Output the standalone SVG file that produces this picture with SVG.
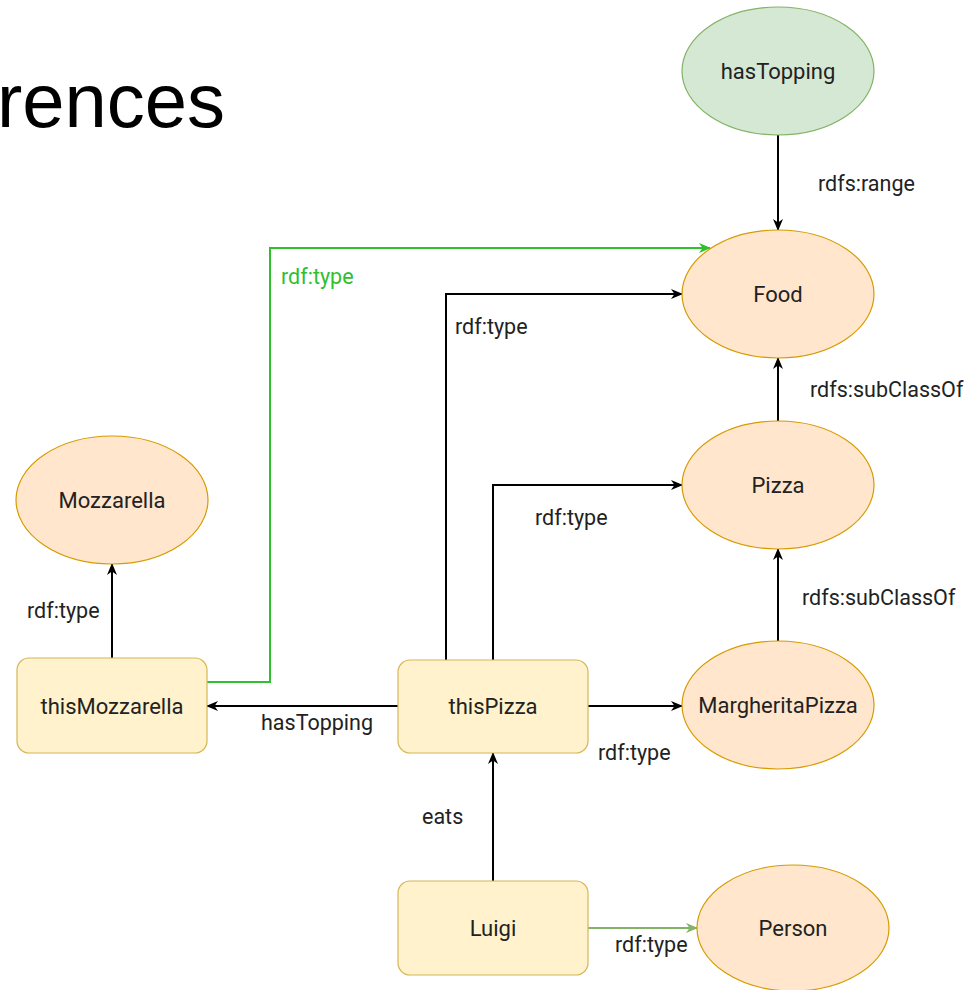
<svg xmlns="http://www.w3.org/2000/svg" width="972" height="990" viewBox="0 0 972 990">
<defs>
<style>
.cls{fill:#ffe6cc;stroke:#d79b00;stroke-width:1.2}
.ind{fill:#fff2cc;stroke:#d6b656;stroke-width:1.2}
.prop{fill:#d5e8d4;stroke:#82b366;stroke-width:1.2}
.nt{font-family:Roboto,"Liberation Sans",sans-serif;font-size:22px;fill:#222;text-anchor:middle;dominant-baseline:central}
.lb{font-family:Roboto,"Liberation Sans",sans-serif;font-size:21.5px;fill:#222}
.e{fill:none;stroke:#000;stroke-width:2}
.g{stroke:#2fbf2f}
.lg{stroke:#82b366}
</style>
<marker id="ah" markerWidth="12" markerHeight="10" refX="11" refY="5" orient="auto" markerUnits="userSpaceOnUse"><path d="M0,0 L12,5 L0,10 L3.5,5 z" fill="#000"/></marker>
<marker id="ahg" markerWidth="12" markerHeight="10" refX="11" refY="5" orient="auto" markerUnits="userSpaceOnUse"><path d="M0,0 L12,5 L0,10 L3.5,5 z" fill="#2fbf2f"/></marker>
<marker id="ahl" markerWidth="12" markerHeight="10" refX="11" refY="5" orient="auto" markerUnits="userSpaceOnUse"><path d="M0,0 L12,5 L0,10 L3.5,5 z" fill="#82b366"/></marker>
</defs>
<rect width="972" height="990" fill="#fff"/>
<text x="-3" y="127" font-family="'Liberation Sans',Arial,sans-serif" font-size="76" fill="#000">rences</text>

<g id="connectors">
<path class="e" d="M778,135 L778,230" marker-end="url(#ah)"/>
<path class="e g" d="M207,682 L270,682 L270,248 L710,248" marker-end="url(#ahg)"/>
<path class="e" d="M446,660 L446,294 L682,294" marker-end="url(#ah)"/>
<path class="e" d="M493,660 L493,485 L682,485" marker-end="url(#ah)"/>
<path class="e" d="M778,421 L778,358" marker-end="url(#ah)"/>
<path class="e" d="M778,641 L778,549" marker-end="url(#ah)"/>
<path class="e" d="M112,658 L112,564" marker-end="url(#ah)"/>
<path class="e" d="M398,706 L207,706" marker-end="url(#ah)"/>
<path class="e" d="M588,706 L682,706" marker-end="url(#ah)"/>
<path class="e" d="M493,881 L493,753" marker-end="url(#ah)"/>
<path class="e lg" d="M588,928 L697,928" marker-end="url(#ahl)"/>
<text class="lb" x="818" y="191">rdfs:range</text>
<text class="lb" x="281" y="284" style="fill:#2fbf2f">rdf:type</text>
<text class="lb" x="455" y="334">rdf:type</text>
<text class="lb" x="810" y="397">rdfs:subClassOf</text>
<text class="lb" x="535" y="525">rdf:type</text>
<text class="lb" x="802" y="605">rdfs:subClassOf</text>
<text class="lb" x="27" y="618">rdf:type</text>
<text class="lb" x="261" y="730">hasTopping</text>
<text class="lb" x="598" y="760">rdf:type</text>
<text class="lb" x="422" y="824">eats</text>
<text class="lb" x="615" y="952">rdf:type</text>
</g>

<g id="hasTopping"><ellipse class="prop" cx="778" cy="71" rx="96" ry="64"/><text class="nt" x="778" y="71">hasTopping</text></g>
<g id="Food"><ellipse class="cls" cx="778" cy="294" rx="96" ry="64"/><text class="nt" x="778" y="294">Food</text></g>
<g id="Pizza"><ellipse class="cls" cx="778" cy="485" rx="96" ry="64"/><text class="nt" x="778" y="485">Pizza</text></g>
<g id="MargheritaPizza"><ellipse class="cls" cx="778" cy="705" rx="96" ry="64"/><text class="nt" x="778" y="705">MargheritaPizza</text></g>
<g id="Mozzarella"><ellipse class="cls" cx="112" cy="500" rx="96" ry="64"/><text class="nt" x="112" y="500">Mozzarella</text></g>
<g id="Person"><ellipse class="cls" cx="793" cy="928" rx="96" ry="63"/><text class="nt" x="793" y="928">Person</text></g>
<g id="thisMozzarella"><rect class="ind" x="17" y="658" width="190" height="95" rx="12"/><text class="nt" x="112" y="706">thisMozzarella</text></g>
<g id="thisPizza"><rect class="ind" x="398" y="660" width="190" height="93" rx="12"/><text class="nt" x="493" y="706">thisPizza</text></g>
<g id="Luigi"><rect class="ind" x="398" y="881" width="190" height="94" rx="12"/><text class="nt" x="493" y="928">Luigi</text></g>
</svg>
